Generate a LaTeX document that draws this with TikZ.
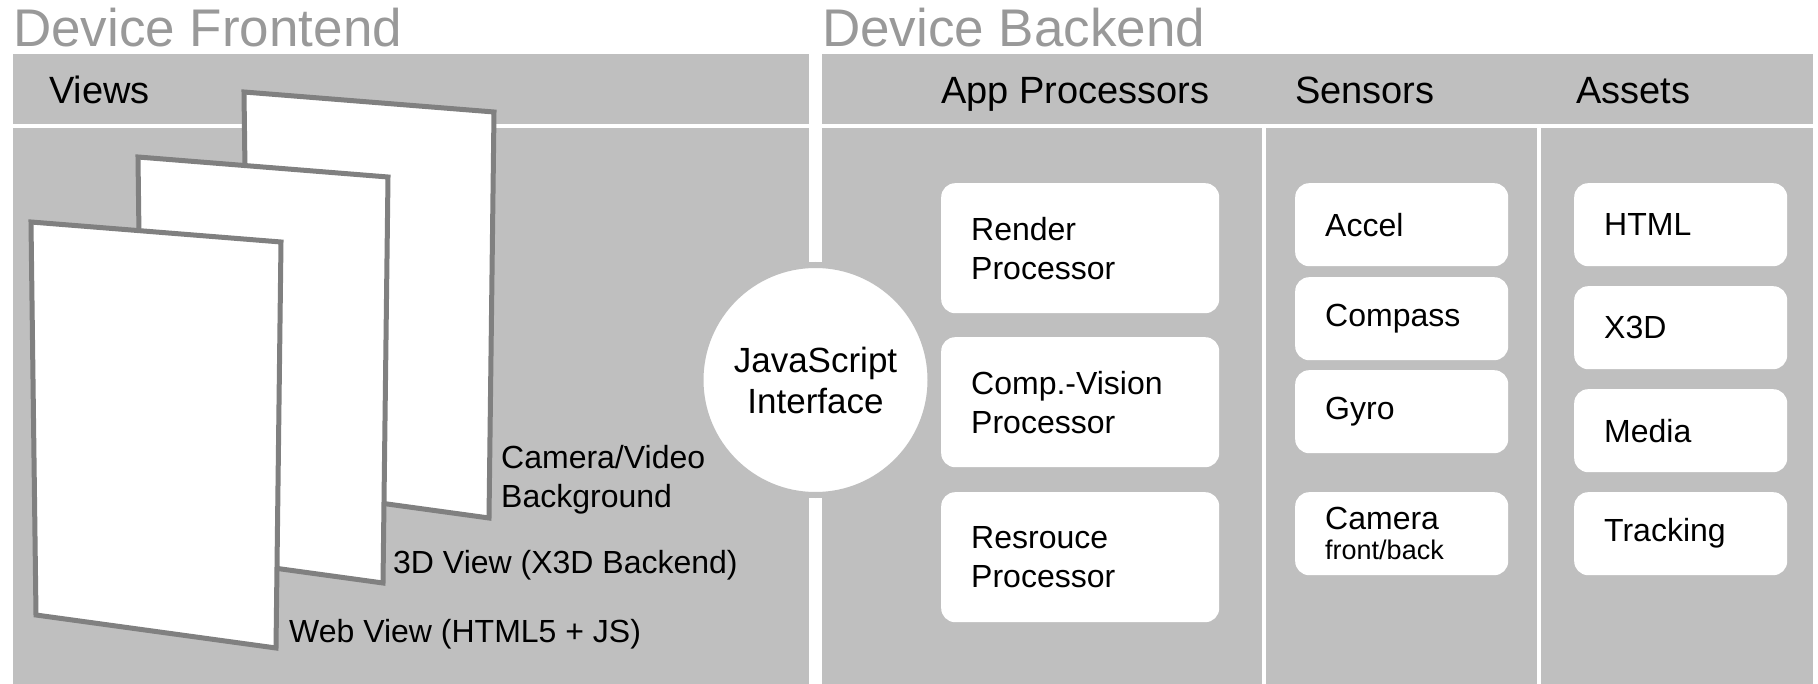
\documentclass[tikz,border=0pt]{standalone}
\usepackage{fontspec}
\setmainfont{Liberation Sans}

\definecolor{panelgray}{gray}{0.75}
\definecolor{titlegray}{gray}{0.6}
\definecolor{sheetgray}{gray}{0.5}

\tikzset{
  sectiontitle/.style={anchor=base west, inner sep=0pt, text=titlegray, font=\fontsize{53}{60}\selectfont},
  colheader/.style={anchor=base west, inner sep=0pt, font=\fontsize{38}{44}\selectfont},
  sheet/.style={fill=white, draw=sheetgray, line width=5pt},
  viewlabel/.style={anchor=west, align=left, inner sep=0pt, font=\fontsize{32}{39}\selectfont},
  tallbox/.style={anchor=north west, fill=white, rounded corners=14pt,
    minimum width=278pt, minimum height=130pt, text width=218pt,
    inner xsep=30pt, inner ysep=0pt, align=left, font=\fontsize{32}{39}\selectfont},
  smallbox/.style={tallbox, minimum width=213pt, minimum height=83pt, text width=153pt},
}

\begin{document}
\begin{tikzpicture}[x=1pt, y=1pt, yscale=-1]
    \useasboundingbox (0,0) rectangle (1818,684);

    % Panels: header band and body, frontend and backend
    \fill[panelgray] (13,54) rectangle (809,124);
    \fill[panelgray] (13,128) rectangle (809,684);
    \fill[panelgray] (822,54) rectangle (1813,124);
    \fill[panelgray] (822,128) rectangle (1813,684);
    % column separators in the backend
    \draw[white, line width=4pt] (1264,128) -- (1264,684);
    \draw[white, line width=4pt] (1539,128) -- (1539,684);

    % Titles above the panels
    \node[sectiontitle] (frontTitle) at (13,47) {Device Frontend};
    \node[sectiontitle] (backTitle) at (822,47) {Device Backend};

    % Column headers
    \node[colheader] (views) at (49,104) {Views};
    \node[colheader] (procs) at (941,104) {App Processors};
    \node[colheader] (sensors) at (1295,104) {Sensors};
    \node[colheader] (assets) at (1576,104) {Assets};

    % The stacked view layers, back to front
    \draw[sheet] (244,92) -- (494,112) -- (489,518) -- (249,485) -- cycle;
    \draw[sheet] (138,157) -- (388,177) -- (383,583) -- (143,550) -- cycle;
    \draw[sheet] (31,222) -- (281,242) -- (276,648) -- (36,615) -- cycle;

    \node[viewlabel] (camLabel) at (501,480) {Camera/Video\\Background};
    \node[viewlabel, anchor=base west] (threeDLabel) at (393,573) {3D View (X3D Backend)};
    \node[viewlabel, anchor=base west] (webLabel) at (289,642) {Web View (HTML5 + JS)};

    % Bridge between frontend and backend
    \node[circle, fill=white, draw=panelgray, line width=6pt, minimum size=230pt,
          inner sep=0pt, align=center, font=\fontsize{35}{41}\selectfont]
          (jsInterface) at (815.5,380) {JavaScript\\Interface};

    % App processors
    \node[tallbox] (render) at (941,183) {Render\\Processor};
    \node[tallbox] (vision) at (941,337) {Comp.-Vision\\Processor};
    \node[tallbox] (resource) at (941,492) {Resrouce\\Processor};

    % Sensors
    \node[smallbox] (accel) at (1295,183) {Accel};
    \node[smallbox] (compass) at (1295,277) {Compass};
    \node[smallbox] (gyro) at (1295,370) {Gyro};
    \node[smallbox] (camera) at (1295,492) {Camera\\[-9pt]{\fontsize{27}{30}\selectfont front/back}};

    % Assets
    \node[smallbox] (html) at (1574,183) {HTML};
    \node[smallbox] (xthreed) at (1574,286) {X3D};
    \node[smallbox] (media) at (1574,389) {Media};
    \node[smallbox] (tracking) at (1574,492) {Tracking};
\end{tikzpicture}
\end{document}
